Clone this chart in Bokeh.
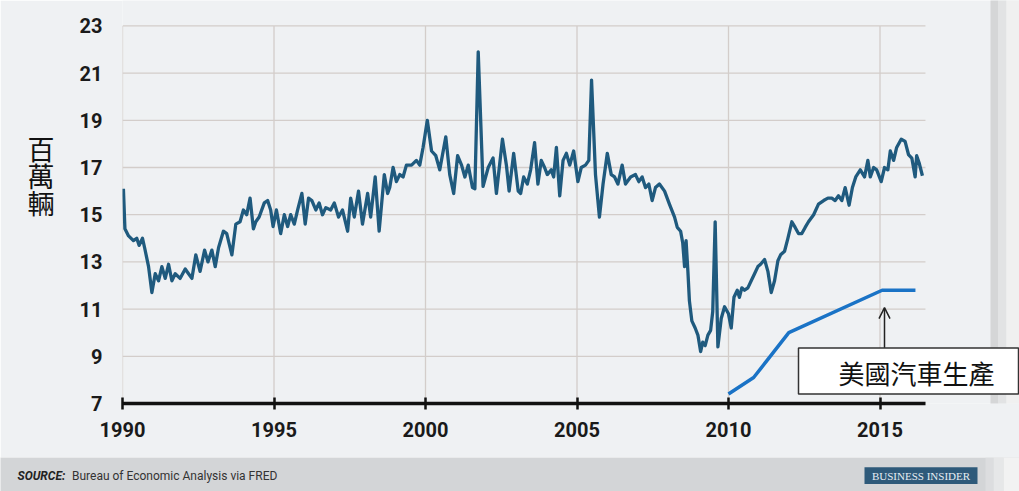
from bokeh.plotting import figure
from bokeh.layouts import column
from bokeh.models import Range1d, FixedTicker, Label, BoxAnnotation, Arrow, OpenHead, ColumnDataSource
from bokeh.core.properties import value
from bokeh.embed import file_html
from bokeh.resources import INLINE

# ---- data ----
sales_years = [
    1990.03, 1990.08, 1990.20, 1990.36, 1990.47, 1990.55, 1990.66, 1990.73, 1990.86, 1990.97,
    1991.08, 1991.19, 1991.30, 1991.41, 1991.52, 1991.63, 1991.74, 1991.90, 1992.07, 1992.18,
    1992.29, 1992.42, 1992.56, 1992.71, 1992.82, 1992.95, 1993.06, 1993.17, 1993.33, 1993.44,
    1993.61, 1993.74, 1993.88, 1993.99, 1994.10, 1994.21, 1994.32, 1994.40, 1994.51, 1994.68,
    1994.79, 1994.89, 1994.97, 1995.08, 1995.22, 1995.34, 1995.45, 1995.55, 1995.67, 1995.78,
    1995.92, 1996.03, 1996.14, 1996.25, 1996.38, 1996.49, 1996.60, 1996.71, 1996.87, 1996.99,
    1997.13, 1997.26, 1997.43, 1997.53, 1997.65, 1997.79, 1997.92, 1998.09, 1998.19, 1998.34,
    1998.47, 1998.64, 1998.75, 1998.82, 1998.93, 1999.04, 1999.15, 1999.26, 1999.37, 1999.54,
    1999.70, 1999.81, 1999.92, 2000.06, 2000.20, 2000.34, 2000.47, 2000.67, 2000.80, 2000.93,
    2001.06, 2001.19, 2001.30, 2001.41, 2001.55, 2001.63, 2001.74, 2001.90, 2002.07, 2002.23,
    2002.34, 2002.54, 2002.67, 2002.76, 2002.91, 2003.06, 2003.14, 2003.24, 2003.36, 2003.47,
    2003.60, 2003.71, 2003.82, 2003.93, 2004.02, 2004.15, 2004.23, 2004.32, 2004.43, 2004.54,
    2004.65, 2004.76, 2004.89, 2005.03, 2005.14, 2005.28, 2005.39, 2005.48, 2005.61, 2005.74,
    2005.86, 2006.00, 2006.13, 2006.24, 2006.35, 2006.49, 2006.60, 2006.77, 2006.93, 2007.04,
    2007.15, 2007.26, 2007.37, 2007.48, 2007.59, 2007.72, 2007.89, 2008.05, 2008.22, 2008.31,
    2008.42, 2008.49, 2008.55, 2008.60, 2008.66, 2008.71, 2008.79, 2008.90, 2008.99, 2009.08,
    2009.15, 2009.23, 2009.32, 2009.41, 2009.48, 2009.56, 2009.65, 2009.76, 2009.87, 2010.00,
    2010.09, 2010.18, 2010.29, 2010.36, 2010.44, 2010.53, 2010.64, 2010.75, 2010.86, 2010.97,
    2011.06, 2011.19, 2011.30, 2011.41, 2011.52, 2011.63, 2011.72, 2011.85, 2011.96, 2012.09,
    2012.20, 2012.31, 2012.42, 2012.53, 2012.64, 2012.81, 2012.97, 2013.14, 2013.28, 2013.41,
    2013.52, 2013.63, 2013.74, 2013.85, 2013.98, 2014.09, 2014.20, 2014.35, 2014.49, 2014.60,
    2014.68, 2014.79, 2014.89, 2015.04, 2015.15, 2015.26, 2015.34, 2015.45, 2015.55, 2015.70,
    2015.83, 2015.94, 2016.05, 2016.16, 2016.21, 2016.29, 2016.40,
]
sales_values = [
    16.1, 14.4, 14.1, 13.9, 14.0, 13.7, 14.0, 13.6, 12.8, 11.7,
    12.5, 12.2, 12.8, 12.3, 12.9, 12.2, 12.5, 12.3, 12.7, 12.5,
    12.3, 13.3, 12.6, 13.5, 13.0, 13.5, 12.8, 13.6, 14.3, 14.2,
    13.3, 14.6, 14.7, 15.2, 15.0, 15.7, 14.4, 14.7, 14.9, 15.5,
    15.6, 15.2, 14.5, 15.2, 14.2, 15.0, 14.5, 15.0, 14.6, 15.2,
    15.9, 14.6, 15.7, 15.6, 15.2, 15.5, 15.0, 15.3, 15.2, 15.5,
    14.9, 15.2, 14.3, 15.7, 14.9, 16.0, 14.6, 15.9, 14.9, 16.6,
    14.3, 16.7, 15.9, 16.15, 17.0, 16.4, 16.7, 16.6, 17.1, 17.1,
    17.3, 17.1, 17.85, 19.0, 17.7, 17.5, 16.9, 18.3, 16.7, 15.9,
    17.5, 17.1, 16.6, 17.1, 16.15, 16.1, 21.9, 16.2, 17.0, 17.4,
    15.9, 18.2, 17.1, 16.0, 17.6, 16.0, 15.9, 16.6, 16.3, 16.9,
    18.05, 16.3, 17.3, 17.0, 16.7, 16.9, 16.6, 17.85, 15.8, 17.3,
    17.6, 17.1, 17.7, 16.4, 17.0, 17.1, 17.3, 20.7, 16.7, 14.9,
    16.3, 17.6, 16.7, 16.6, 16.3, 17.1, 16.3, 16.6, 16.7, 16.4,
    16.6, 16.15, 16.3, 15.6, 16.15, 16.3, 16.0, 15.45, 14.9, 14.46,
    14.3, 13.8, 12.8, 13.9, 12.6, 11.35, 10.5, 10.2, 9.9, 9.2,
    9.6, 9.45, 9.9, 10.1, 10.9, 14.7, 9.4, 10.6, 11.1, 10.8,
    10.2, 11.5, 11.8, 11.5, 11.9, 11.8, 11.9, 12.2, 12.5, 12.8,
    12.9, 13.1, 12.6, 11.7, 12.2, 13.05, 13.3, 13.45, 14.0, 14.7,
    14.46, 14.2, 14.2, 14.46, 14.7, 15.0, 15.45, 15.6, 15.7, 15.7,
    15.6, 15.8, 15.6, 16.15, 15.4, 16.15, 16.6, 16.9, 16.6, 17.3,
    16.6, 17.0, 16.9, 16.4, 17.0, 16.9, 17.7, 17.3, 17.85, 18.2,
    18.1, 17.55, 17.4, 16.6, 17.5, 17.2, 16.65,
]
production_years = [2010.0, 2010.83, 2011.99, 2015.07, 2016.17]
production_values = [7.4, 8.1, 10.0, 11.8, 11.8]

x_ticks = [1990, 1995, 2000, 2005, 2010, 2015]
x_tick_labels = ["1990", "1995", "2000", "2005", "2010", "2015"]
y_ticks = [7, 9, 11, 13, 15, 17, 19, 21, 23]
y_tick_labels = ["7", "9", "11", "13", "15", "17", "19", "21", "23"]

y_title = "百\n萬\n輛"
series_label = "美國汽車生產"
source_bold = "SOURCE:"
source_rest = "Bureau of Economic Analysis via FRED"
brand = "BUSINESS INSIDER"

# ---- axis extents ----
X_MIN, X_MAX = 1990, 2016.5
Y_MIN, Y_MAX = 7, 23
PX_PER_YEAR = 30.3
PX_PER_UNIT = 23.6
LEFT, BOTTOM = 122, 54
W, H = 1019, 457

PANEL = "#eff1f3"
GRID = "#d3cdca"

x_end = X_MIN + (W - LEFT) / PX_PER_YEAR
y_end = Y_MIN + (H - BOTTOM) / PX_PER_UNIT

p = figure(width=W, height=H, output_backend="svg", toolbar_location=None,
           x_range=Range1d(X_MIN, x_end), y_range=Range1d(Y_MIN, y_end),
           min_border_left=LEFT, min_border_right=0, min_border_top=0, min_border_bottom=BOTTOM)
p.frame_align = False
p.background_fill_color = PANEL
p.border_fill_color = PANEL
p.outline_line_color = None
p.grid.visible = False

# right-hand drop shadow of the panel
sx0 = X_MIN + (990 - LEFT) / PX_PER_YEAR
sx1 = X_MIN + (998 - LEFT) / PX_PER_YEAR
sx2 = X_MIN + (1006 - LEFT) / PX_PER_YEAR
p.quad(left=[sx0, sx1, sx2], right=[sx1, sx2, x_end + 1], bottom=[Y_MIN - 1] * 3, top=[y_end + 1] * 3,
       fill_color=["#d5d6d7", "#e2e3e4", "#f0f0f0"], line_color=None)

# grid lines, from the tick lists
p.segment(x0=x_ticks, y0=[Y_MIN] * len(x_ticks), x1=x_ticks, y1=[Y_MAX] * len(x_ticks),
          line_color=GRID, line_width=1.3)
p.segment(x0=[X_MIN] * len(y_ticks), y0=y_ticks, x1=[X_MAX] * len(y_ticks), y1=y_ticks,
          line_color=GRID, line_width=1.3)

# x axis
xa = p.xaxis[0]
xa.bounds = (X_MIN, X_MAX)
xa.ticker = FixedTicker(ticks=x_ticks)
xa.major_label_overrides = {t: l for t, l in zip(x_ticks, x_tick_labels)}
xa.axis_line_color = "#111111"
xa.axis_line_width = 3.5
xa.major_tick_line_color = "#111111"
xa.major_tick_line_width = 2.5
xa.major_tick_in = 6
xa.major_tick_out = 6
xa.minor_tick_line_color = None
xa.major_label_standoff = 12
xa.major_label_text_font = "Roboto"
xa.major_label_text_font_style = "bold"
xa.major_label_text_font_size = "20px"
xa.major_label_text_color = "#1a1a1a"

# y axis
ya = p.yaxis[0]
ya.ticker = FixedTicker(ticks=y_ticks)
ya.major_label_overrides = {t: l for t, l in zip(y_ticks, y_tick_labels)}
ya.axis_line_color = None
ya.major_tick_line_color = None
ya.minor_tick_line_color = None
ya.major_tick_out = 0
ya.major_tick_in = 0
ya.major_label_standoff = 20
ya.major_label_text_font = "Roboto"
ya.major_label_text_font_style = "bold"
ya.major_label_text_font_size = "20px"
ya.major_label_text_color = "#1a1a1a"
ya.axis_label = y_title + "\n \n "
ya.axis_label_orientation = "horizontal"
ya.axis_label_standoff = 22
ya.axis_label_text_font = "Noto Sans CJK TC"
ya.axis_label_text_font_style = "normal"
ya.axis_label_text_font_size = "27px"
ya.axis_label_text_line_height = 0.69
ya.axis_label_text_color = "#111111"

# lines
src = ColumnDataSource(dict(x=sales_years, y=sales_values))
p.line("x", "y", source=src, line_color="#1f5a7e", line_width=3.3, line_join="round")
src2 = ColumnDataSource(dict(x=production_years, y=production_values))
p.line("x", "y", source=src2, line_color="#1a73c6", line_width=3.5, line_join="round")

# callout box + arrow
p.add_layout(BoxAnnotation(left=X_MIN + (798 - LEFT) / PX_PER_YEAR, right=X_MIN + (1018 - LEFT) / PX_PER_YEAR,
                           bottom=7.40, top=9.35, fill_color="white", fill_alpha=1,
                           line_color="#333333", line_alpha=1, line_width=1.5))
p.add_layout(Label(x=X_MIN + (916 - LEFT) / PX_PER_YEAR, y=8.31, text=series_label,
                   text_align="center", text_baseline="middle",
                   text_font="Noto Sans CJK TC", text_font_size="26px", text_color="#111111"))
ax = X_MIN + (884 - LEFT) / PX_PER_YEAR
p.add_layout(Arrow(end=OpenHead(size=11, line_width=1.5, line_color="#222222"),
                   x_start=ax, y_start=9.36, x_end=ax, y_end=11.06,
                   line_width=1.5, line_color="#222222"))

# ---- bottom source band ----
b = figure(width=W, height=34, output_backend="svg", toolbar_location=None,
           x_range=Range1d(0, W), y_range=Range1d(0, 34), min_border=0)
b.frame_align = False
b.axis.visible = False
b.grid.visible = False
b.outline_line_color = None
b.background_fill_color = "#d3d5d7"
b.border_fill_color = "#d3d5d7"
b.quad(left=[985, 993, 1003], right=[993, 1003, W], bottom=[0, 0, 0], top=[34, 34, 34],
       fill_color=["#dcdddf", "#e6e7e8", "#f2f2f2"], line_color=None)
b.text(x=[17], y=[15.5], text=[source_bold], text_font=value("Roboto"), text_font_style="bold italic",
       text_font_size="12px", text_color="#222222", text_baseline="middle")
b.text(x=[71.5], y=[15.5], text=[source_rest], text_font=value("Roboto"),
       text_font_size="12px", text_color="#333333", text_baseline="middle")
b.quad(left=[864], right=[977], bottom=[7.5], top=[24.3], fill_color="#2e5a7a", line_color=None)
b.text(x=[920.5], y=[16], text=[brand], text_font=value("Liberation Serif"), text_font_size="11px",
       text_color="#e8eef3", text_align="center", text_baseline="middle")

layout = column(p, b, spacing=0)
open("out.html", "w").write(file_html(layout, INLINE))
